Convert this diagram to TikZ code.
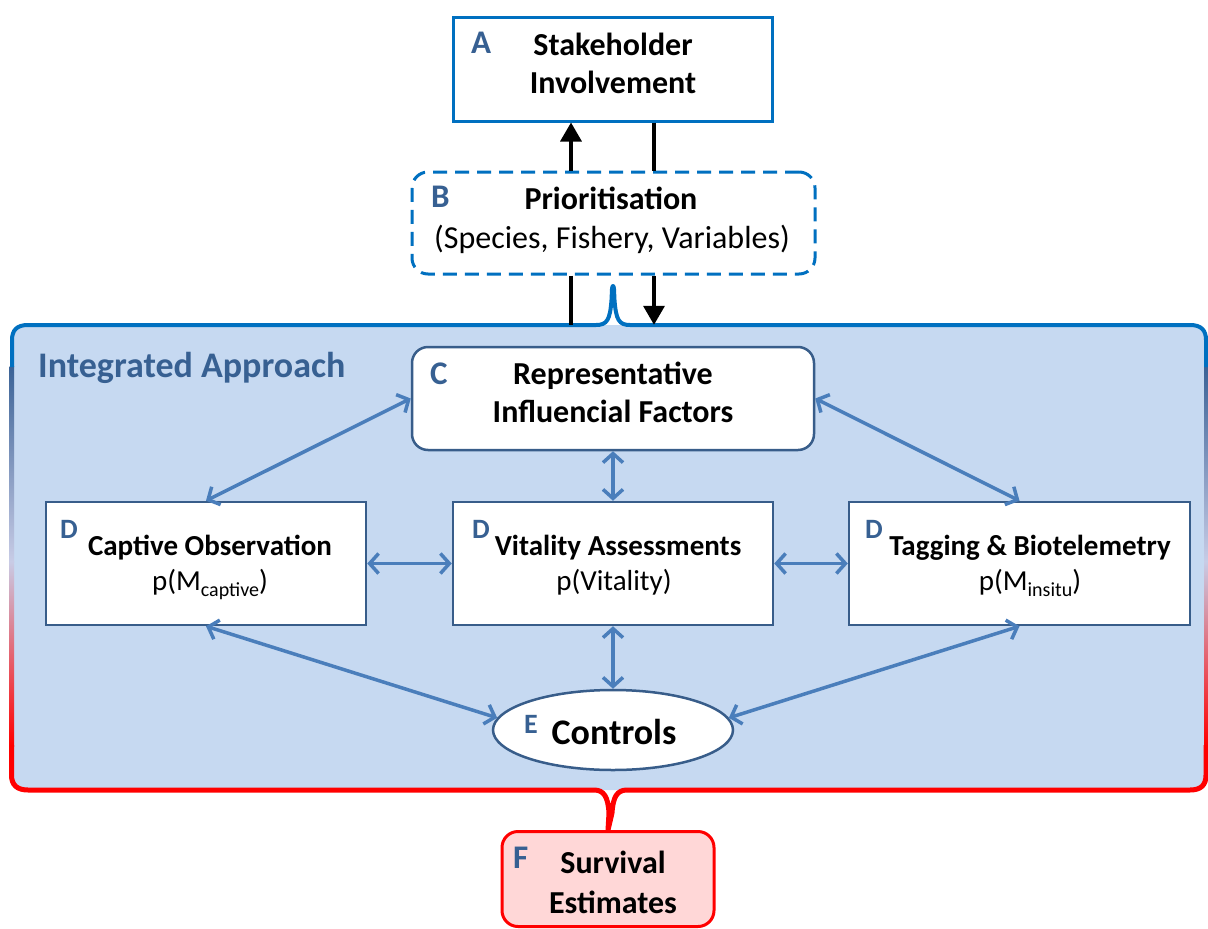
\documentclass[tikz,border=0pt]{standalone}
\usepackage{fontspec}
\setmainfont{Carlito}
\usetikzlibrary{arrows.meta,shapes.geometric}
\definecolor{brightblue}{HTML}{0070C0}
\definecolor{boxline}{HTML}{385D8A}
\definecolor{linkblue}{HTML}{4A7EBB}
\definecolor{areafill}{HTML}{C6D9F1}
\definecolor{labelblue}{HTML}{376092}
\definecolor{sidetop}{HTML}{3A6296}
\definecolor{sidemid}{HTML}{C8CCE6}
\definecolor{pinkfill}{HTML}{FFD7D7}
\newcommand{\sz}[1]{\fontsize{#1}{#1}\selectfont}
\newcommand{\lowsub}[1]{\raisebox{-0.22em}{\sz{20}#1}}
\tikzset{
  boxplain/.style={draw=boxline, fill=white, line width=2.5pt, inner sep=0pt},
  txtbold/.style={inner sep=0pt, anchor=base, font=\bfseries\sz{32}},
  txtreg/.style={inner sep=0pt, anchor=base, font=\sz{32}},
  dbold/.style={inner sep=0pt, anchor=base, font=\bfseries\sz{29}},
  dreg/.style={inner sep=0pt, anchor=base, font=\sz{29}},
  tag/.style={inner sep=0pt, anchor=base west, text=labelblue, font=\bfseries\sz{33}},
  smalltag/.style={inner sep=0pt, anchor=base west, text=labelblue, font=\bfseries\sz{28}},
  blk/.style={line width=3.5pt, draw=black},
  blkhead/.style={-{Triangle[length=19pt,width=21pt]}},
  link/.style={line width=3.5pt, draw=linkblue, {Straight Barb[length=9pt,width=20pt]}-{Straight Barb[length=9pt,width=20pt]}},
}
\begin{document}
\begin{tikzpicture}[x=1pt,y=-1pt]
\useasboundingbox (0,0) rectangle (1208,929);

% helper columns for the vertical connectors
\coordinate (xl) at (571,0);
\coordinate (xr) at (654,0);

% integrated approach area
\node[fill=areafill, rounded corners=14pt, minimum width=1193pt, minimum height=465pt, inner sep=0pt] (I) at (609,557.5) {};
\node[inner sep=0pt, anchor=base west, text=labelblue, font=\bfseries\sz{36}] (ititle) at (38,377) {Integrated Approach};

% side edges fading from blue to red (two linear pieces each)
\shade[top color=sidetop, bottom color=sidemid] (9.5,366) rectangle (14,562);
\shade[top color=sidemid, bottom color=red] (9.5,561) rectangle (14,746);
\shade[top color=sidetop, bottom color=sidemid] (1204,366) rectangle (1208,562);
\shade[top color=sidemid, bottom color=red] (1204,561) rectangle (1208,746);

% output box
\node[draw=red, fill=pinkfill, line width=3pt, rounded corners=16pt, minimum width=212pt, minimum height=95pt, inner sep=0pt] (F) at (608,879) {};

% upper brace
\draw[brightblue, line width=4pt, line join=round]
  (12,367) -- (12,340) .. controls (12,330) and (17,325) .. (28,325)
  -- (596,325) .. controls (607,325) and (610,320) .. (611.5,300)
  -- (612,289) .. controls (612.3,285) and (613.7,285) .. (614,289)
  -- (614.5,300) .. controls (616,320) and (619,325) .. (630,325)
  -- (1190,325) .. controls (1201,325) and (1206,330) .. (1206,340) -- (1206,367);

% lower brace
\draw[red, line width=5pt, line join=round]
  (11.5,745) -- (11.5,775) .. controls (11.5,785) and (17,790) .. (28,790)
  -- (594,790) .. controls (604,790) and (608,797) .. (609,813)
  -- (F.north) -- (612,813) .. controls (613,797) and (617,790) .. (627,790)
  -- (1190,790) .. controls (1201,790) and (1206,785) .. (1206,775) -- (1206,745);

% top boxes
\node[draw=brightblue, fill=white, line width=3pt, minimum width=319pt, minimum height=104pt, inner sep=0pt] (A) at (612.5,69) {};
\node[draw=brightblue, fill=white, line width=3pt, dash pattern=on 14pt off 8pt, rounded corners=16pt, minimum width=403pt, minimum height=102pt, inner sep=0pt] (B) at (613.5,223) {};

% inner boxes
\node[boxplain, rounded corners=16pt, minimum width=402pt, minimum height=103pt] (C) at (613,398.5) {};
\node[boxplain, minimum width=320pt, minimum height=123pt] (D1) at (206,563.5) {};
\node[boxplain, minimum width=320pt, minimum height=123pt] (D2) at (613,563.5) {};
\node[boxplain, minimum width=341pt, minimum height=123pt] (D3) at (1019.5,563.5) {};
\node[boxplain, ellipse, minimum width=240pt, minimum height=80pt] (E) at (613,730) {};

% black connectors between A, B and the area
\draw[blk, blkhead] (B.north -| xl) -- (A.south -| xl);
\draw[blk] (A.south -| xr) -- (B.north -| xr);
\draw[blk] (B.south -| xl) -- (I.north -| xl);
\draw[blk, blkhead] (B.south -| xr) -- (I.north -| xr);

% blue two-way connectors
\draw[link] (C.west) -- (D1.north);
\draw[link] (C.east) -- (D3.north);
\draw[link] (C.south) -- (D2.north);
\draw[link] (D1.east) -- (D2.west);
\draw[link] (D2.east) -- (D3.west);
\draw[link] (D1.south) -- (E.174);
\draw[link] (D3.south) -- (E.6);
\draw[link] (D2.south) -- (E.north);

% texts
\node[tag] (la) at (471,53) {A};
\node[txtbold] (ta1) at (613,55) {Stakeholder};
\node[txtbold] (ta2) at (613,93) {Involvement};

\node[tag] (lb) at (431,207) {B};
\node[txtbold] (tb1) at (611,209) {Prioritisation};
\node[txtreg] (tb2) at (612,248) {(Species, Fishery, Variables)};

\node[tag] (lc) at (430,384) {C};
\node[txtbold] (tc1) at (613,384) {Representative};
\node[txtbold] (tc2) at (613,422) {Influencial Factors};

\node[smalltag] (ld1) at (60,538) {D};
\node[dbold] (td1a) at (210,555) {Captive Observation};
\node[dreg] (td1b) at (210,590) {p(M\lowsub{captive})};

\node[smalltag] (ld2) at (472,538) {D};
\node[dbold] (td2a) at (618,555) {Vitality Assessments};
\node[dreg] (td2b) at (614,590) {p(Vitality)};

\node[smalltag] (ld3) at (865,538) {D};
\node[dbold] (td3a) at (1030,555) {Tagging \& Biotelemetry};
\node[dreg] (td3b) at (1030,590) {p(M\lowsub{insitu})};

\node[smalltag] (le) at (524,733) {E};
\node[inner sep=0pt, anchor=base, font=\bfseries\sz{36}] (te) at (614,744) {Controls};

\node[tag] (lf) at (513,868) {F};
\node[txtbold] (tf1) at (613,873) {Survival};
\node[txtbold] (tf2) at (613,913) {Estimates};
\end{tikzpicture}
\end{document}
